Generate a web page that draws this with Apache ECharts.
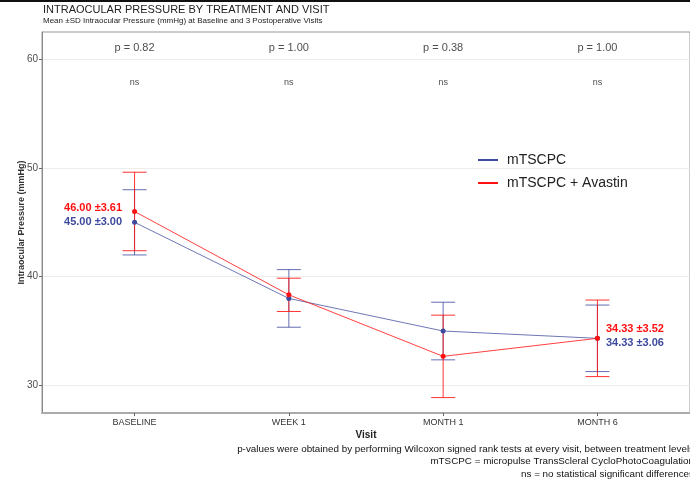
<!DOCTYPE html>
<html>
<head>
<meta charset="utf-8">
<script src="https://cdn.jsdelivr.net/npm/echarts@6/dist/echarts.min.js"></script>
<style>html,body{margin:0;padding:0;background:#fff;}#c{width:690px;height:482px;}</style>
</head>
<body>
<div id="c"></div>
<script>
const visits = ['BASELINE', 'WEEK 1', 'MONTH 1', 'MONTH 6'];
const seriesNames = ['mTSCPC', 'mTSCPC + Avastin'];
const meanA = [45.00, 38.00, 35.00, 34.33];
const sdA = [3.00, 2.65, 2.65, 3.06];
const meanB = [46.00, 38.33, 32.67, 34.33];
const sdB = [3.61, 1.53, 3.79, 3.52];
const pValues = ['0.82', '1.00', '0.38', '1.00'];
const sigLabels = ['ns', 'ns', 'ns', 'ns'];
const yTicks = [30, 40, 50, 60];
const footnotes = [
  'p-values were obtained by performing Wilcoxon signed rank tests at every visit, between treatment levels',
  'mTSCPC = micropulse TransScleral CycloPhotoCoagulation',
  'ns = no statistical significant differences'
];

const BLUE = '#3d4a9e';
const RED = '#ff1010';
const xIdx = visits.map((v, i) => i);

function lineData(means, sds, color, offs) {
  return means.map((m, i) => {
    const item = { value: [i, m] };
    if (i === 0 || i === means.length - 1) {
      item.label = {
        show: true,
        position: i === 0 ? 'left' : 'right',
        distance: i === 0 ? 10 : 6,
        offset: [0, i === 0 ? offs[0] : offs[1]],
        formatter: m.toFixed(2) + ' \u00b1' + sds[i].toFixed(2),
        color: color,
        fontSize: 11,
        fontWeight: 'bold',
        fontFamily: 'Liberation Sans, Arial, sans-serif'
      };
    }
    return item;
  });
}

function errData(means, sds) {
  return means.map((m, i) => [i, m - sds[i], m + sds[i]]);
}

function errRender(color, opacity) {
  return function (params, api) {
    const x = api.value(0);
    const lo = api.coord([x, api.value(1)]);
    const hi = api.coord([x, api.value(2)]);
    const w = 12;
    const st = { stroke: color, lineWidth: 1, opacity: opacity };
    return {
      type: 'group',
      children: [
        { type: 'line', shape: { x1: lo[0], y1: lo[1], x2: hi[0], y2: hi[1] }, style: st },
        { type: 'line', shape: { x1: hi[0] - w, y1: hi[1], x2: hi[0] + w, y2: hi[1] }, style: st },
        { type: 'line', shape: { x1: lo[0] - w, y1: lo[1], x2: lo[0] + w, y2: lo[1] }, style: st }
      ]
    };
  };
}

const FONT = 'Liberation Sans, Arial, sans-serif';
const chart = echarts.init(document.getElementById('c'), null, { renderer: 'canvas' });
chart.setOption({
  animation: false,
  backgroundColor: '#fff',
  color: [BLUE, RED],
  textStyle: { fontFamily: FONT },
  title: {
    text: 'INTRAOCULAR PRESSURE BY TREATMENT AND VISIT',
    subtext: 'Mean \u00b1SD Intraocular Pressure (mmHg) at Baseline and 3 Postoperative Visits',
    left: 43, top: 4, itemGap: 2, padding: [0, 0, 0, 0],
    textStyle: { fontSize: 11, fontWeight: 'normal', color: '#222', fontFamily: FONT },
    subtextStyle: { fontSize: 8, color: '#222', fontFamily: FONT }
  },
  legend: {
    orient: 'vertical', left: 478, top: 153, itemWidth: 20, itemHeight: 2, itemGap: 9,
    padding: 0,
    icon: 'rect',
    data: seriesNames,
    textStyle: { fontSize: 14, color: '#222', fontFamily: FONT, padding: [0, 0, 0, 4] }
  },
  grid: { left: 42, top: 32, width: 653, height: 381, show: true, borderColor: '#999', borderWidth: 1, containLabel: false },
  xAxis: {
    type: 'value', min: -0.6, max: 3.6,
    axisLine: { show: true, onZero: false, lineStyle: { color: '#aaa', width: 2 } },
    axisTick: { show: true, customValues: xIdx, length: 3, lineStyle: { color: '#666' } },
    axisLabel: { customValues: xIdx, formatter: v => visits[Math.round(v)], fontSize: 9, color: '#333', margin: 5 },
    splitLine: { show: false },
    name: 'Visit', nameLocation: 'middle', nameGap: 17, nameMoveOverlap: false,
    nameTextStyle: { fontSize: 10, fontWeight: 'bold', color: '#222' }
  },
  yAxis: {
    type: 'value', min: 27.46, max: 62.51,
    axisLine: { show: true, onZero: false, lineStyle: { color: '#888', width: 1 } },
    axisTick: { show: true, customValues: yTicks, length: 3, lineStyle: { color: '#666' } },
    axisLabel: { customValues: yTicks, fontSize: 10, color: '#4d4d4d', margin: 4 },
    splitLine: { show: true, lineStyle: { color: '#ececec', width: 1 } },
    name: 'Intraocular Pressure (mmHg)', nameLocation: 'middle', nameGap: 16, nameMoveOverlap: false,
    nameTextStyle: { fontSize: 9, fontWeight: 'bold', color: '#333' }
  },
  graphic: [
    { type: 'rect', shape: { x: 0, y: 0, width: 690, height: 2 }, style: { fill: '#111' } }
  ].concat(footnotes.map((t, i) => ({
    type: 'text', x: 694, y: 449 + i * 12.5,
    style: { text: t, align: 'right', verticalAlign: 'middle', textAlign: 'right', textVerticalAlign: 'middle', font: '9.85px ' + FONT, fill: '#111' }
  }))),
  series: [
    {
      name: seriesNames[0], type: 'custom', renderItem: errRender(BLUE, 0.8),
      itemStyle: { color: BLUE },
      data: errData(meanA, sdA), encode: { x: 0, y: [1, 2] }, clip: false, silent: true, z: 2
    },
    {
      name: seriesNames[1], type: 'custom', renderItem: errRender(RED, 0.85),
      itemStyle: { color: RED },
      data: errData(meanB, sdB), encode: { x: 0, y: [1, 2] }, clip: false, silent: true, z: 3
    },
    {
      name: seriesNames[0], type: 'line', data: lineData(meanA, sdA, BLUE, [0, 5]),
      symbol: 'circle', symbolSize: 5, color: BLUE,
      lineStyle: { color: BLUE, width: 1, opacity: 0.75 }, itemStyle: { color: BLUE }, z: 4
    },
    {
      name: seriesNames[1], type: 'line', data: lineData(meanB, sdB, RED, [-3, -9]),
      symbol: 'circle', symbolSize: 5, color: RED,
      lineStyle: { color: RED, width: 1, opacity: 0.8 }, itemStyle: { color: RED }, z: 5
    },
    {
      name: 'pvals', type: 'scatter', symbolSize: 0, silent: true,
      data: pValues.map((p, i) => [i, 61.05]),
      label: { show: true, position: 'inside', formatter: p => 'p = ' + pValues[p.dataIndex], fontSize: 11, color: '#222' }
    },
    {
      name: 'sig', type: 'scatter', symbolSize: 0, silent: true,
      data: sigLabels.map((s, i) => [i, 57.82]),
      label: { show: true, position: 'inside', formatter: p => sigLabels[p.dataIndex], fontSize: 9, color: '#222' }
    }
  ]
});
</script>
</body>
</html>
